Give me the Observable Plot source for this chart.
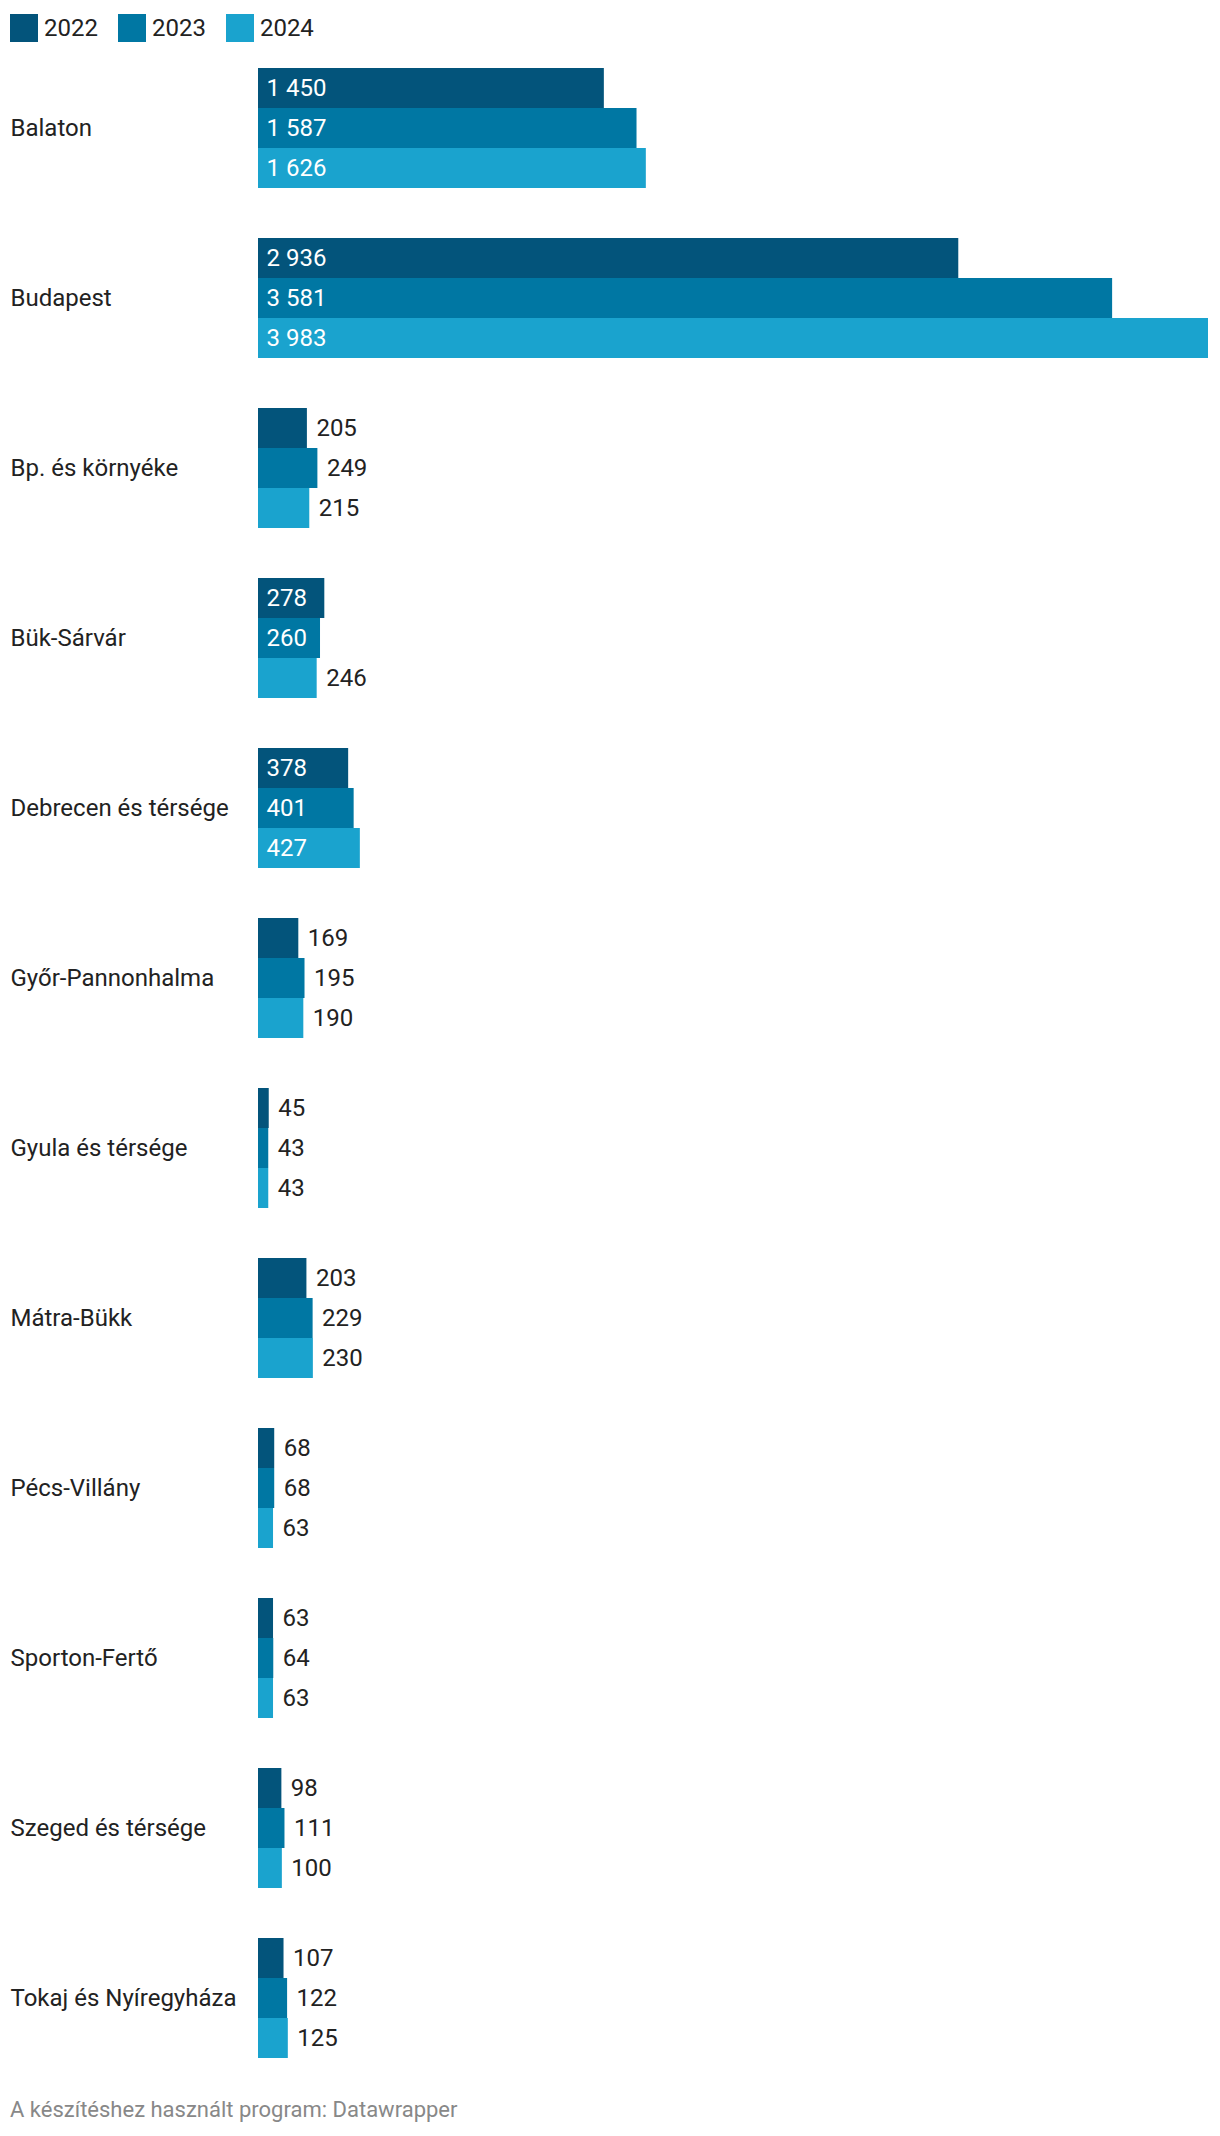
<!DOCTYPE html>
<html><head><meta charset="utf-8">
<script src="https://cdn.jsdelivr.net/npm/d3@7"></script>
<script src="https://cdn.jsdelivr.net/npm/@observablehq/plot@0.6"></script>
<style>
body{margin:0;background:#fff;font-family:Roboto,sans-serif;color:#222;}
#legend{height:36px;padding:14px 0 0 10px;display:flex;align-items:flex-start;}
.item{display:flex;align-items:center;font-size:24px;line-height:28px;margin-right:20px;}
.sw{width:28px;height:28px;margin-right:6px;}
#chart svg{display:block;}
#footer{font-size:22px;line-height:24px;color:#888;padding:30px 0 0 10px;}
</style></head><body>
<div id="legend"></div>
<div id="chart"></div>
<div id="footer">A készítéshez használt program: Datawrapper</div>
<script>
const regions = ["Balaton","Budapest","Bp. és környéke","Bük-Sárvár","Debrecen és térsége","Győr-Pannonhalma","Gyula és térsége","Mátra-Bükk","Pécs-Villány","Sporton-Fertő","Szeged és térsége","Tokaj és Nyíregyháza"];
const years = ["2022","2023","2024"];
const v2022 = [1450,2936,205,278,378,169,45,203,68,63,98,107];
const v2023 = [1587,3581,249,260,401,195,43,229,68,64,111,122];
const v2024 = [1626,3983,215,246,427,190,43,230,63,63,100,125];
const colors = ["#03547b","#0077a3","#1aa3ce"];

const series = [v2022, v2023, v2024];
const rows = [];
regions.forEach((r, i) => years.forEach((y, j) => rows.push({region: r, year: y, value: series[j][i]})));

// legend
const lg = document.getElementById("legend");
years.forEach((y, j) => {
  const it = document.createElement("div"); it.className = "item";
  const sw = document.createElement("div"); sw.className = "sw"; sw.style.background = colors[j];
  it.appendChild(sw); it.appendChild(document.createTextNode(y)); lg.appendChild(it);
});

const fmt = d3.formatLocale({thousands: " ", grouping: [3], decimal: ",", currency: ["", ""]}).format(",d");
const W = 1220, ML = 258, MR = 12, FS = 24;
const xDomain = [0, d3.max(rows, d => d.value)];
const xs = Plot.scale({x: {domain: xDomain, range: [ML, W - MR]}});
const textW = s => [...s].reduce((w, c) => w + (c === " " ? 0.2485 : 0.5615) * FS, 0);
const fits = d => xs.apply(d.value) - xs.apply(0) > textW(fmt(d.value)) + 20;
const inside = rows.filter(fits);
const outside = rows.filter(d => !fits(d));

const plot = Plot.plot({
  width: W,
  height: 2018,
  marginTop: 18,
  marginBottom: 10,
  marginLeft: ML,
  marginRight: MR,
  style: {fontFamily: "Roboto", fontSize: "24px", color: "#222", background: "#fff"},
  x: {domain: xDomain, axis: null},
  y: {domain: years, padding: 0, axis: null},
  fy: {domain: regions, paddingInner: 50 / 170, paddingOuter: 0, axis: null},
  color: {domain: years, range: colors},
  marks: [
    Plot.barX(rows, {fy: "region", y: "year", x: "value", fill: "year"}),
    Plot.text(inside, {fy: "region", y: "year", x: 0, text: d => fmt(d.value), textAnchor: "start", dx: 8, fill: "white", fontSize: FS}),
    Plot.text(outside, {fy: "region", y: "year", x: "value", text: d => fmt(d.value), textAnchor: "start", dx: 9, fill: "#222", fontSize: FS}),
    Plot.text(regions, {fy: d => d, text: d => d, frameAnchor: "left", textAnchor: "start", dx: -248, fill: "#222", fontSize: FS})
  ]
});
document.getElementById("chart").appendChild(plot);
</script>
</body></html>
